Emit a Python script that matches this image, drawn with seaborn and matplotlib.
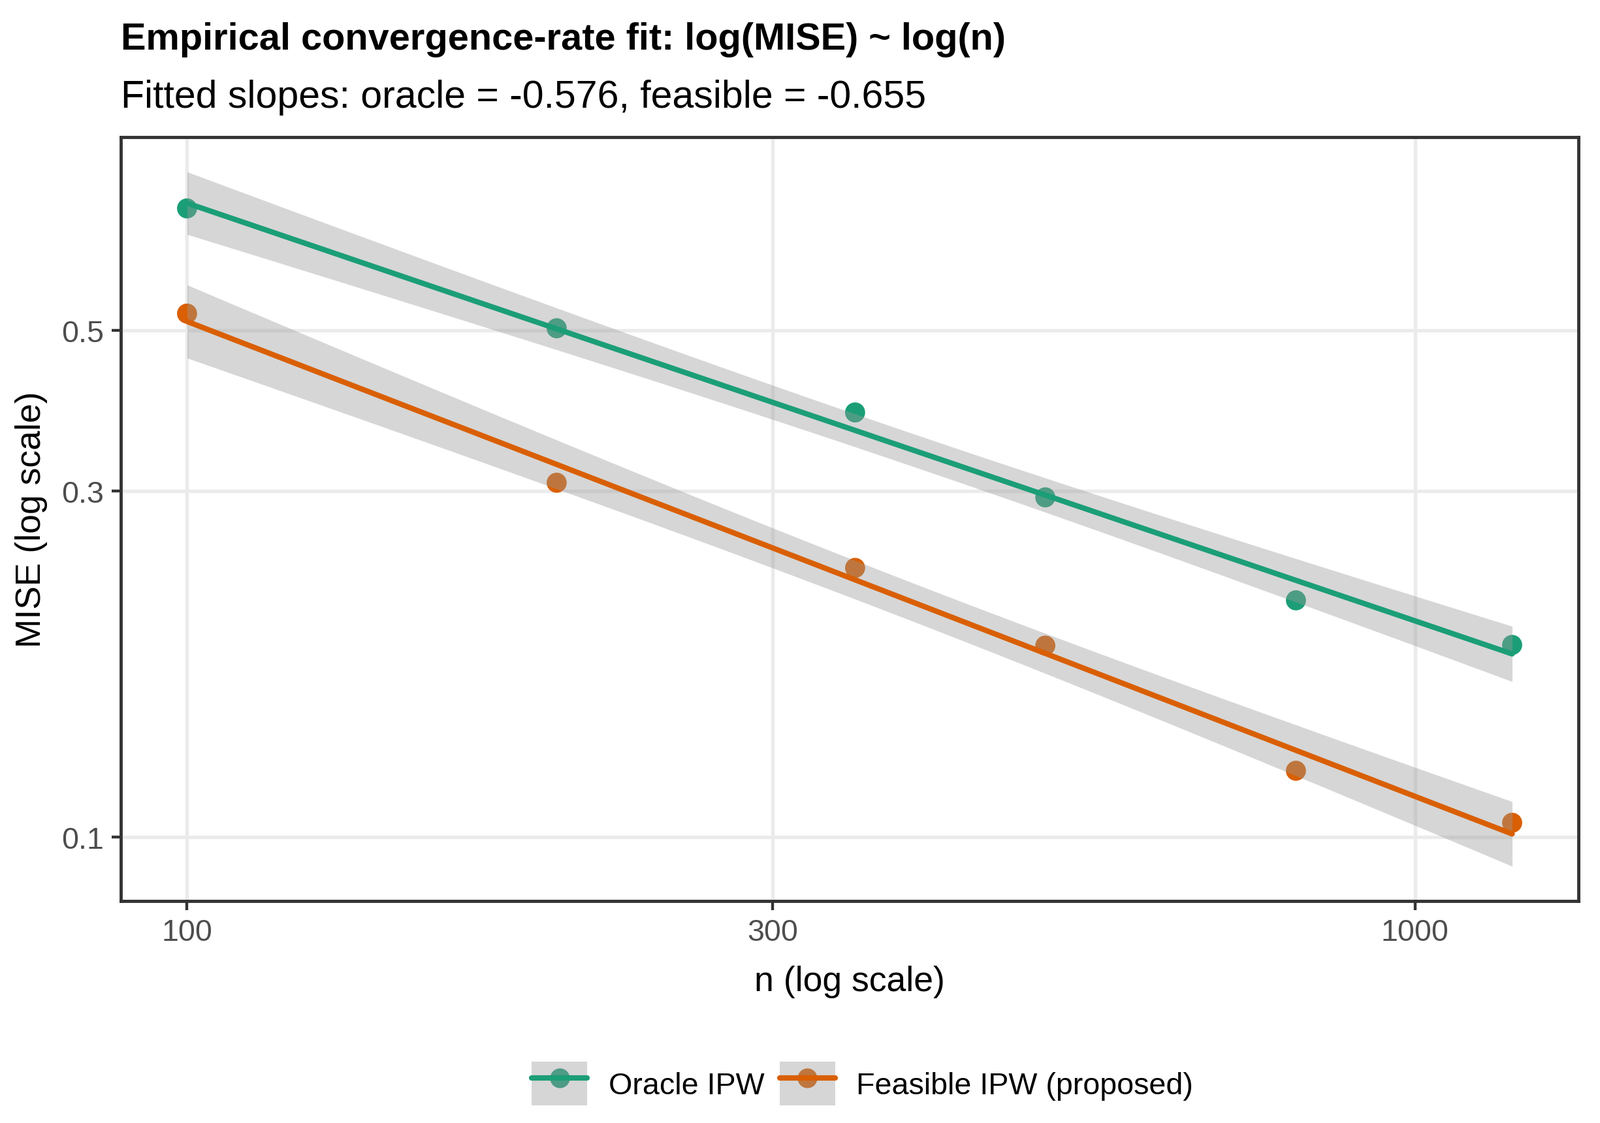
import numpy as np
import pandas as pd
import matplotlib
matplotlib.use("Agg")
import matplotlib.pyplot as plt
import seaborn as sns
from matplotlib.patches import Patch
from matplotlib.lines import Line2D
from matplotlib.colors import to_rgb

# ---------------- data ----------------
n_values = [100, 200, 350, 500, 800, 1200]
oracle_mise = [0.736, 0.503, 0.385, 0.294, 0.212, 0.184]
feasible_mise = [0.527, 0.308, 0.235, 0.1836, 0.1234, 0.1046]
methods = ["Oracle IPW", "Feasible IPW (proposed)"]
method_colors = ["#1B9E77", "#D95F02"]
x_ticks = [100, 300, 1000]
x_tick_labels = ["100", "300", "1000"]
y_ticks = [0.1, 0.3, 0.5]
y_tick_labels = ["0.1", "0.3", "0.5"]
title = "Empirical convergence-rate fit: log(MISE) ~ log(n)"
x_label = "n (log scale)"
y_label = "MISE (log scale)"
t_crit_df4 = 2.7764451  # 97.5% quantile of t with 4 df

df = pd.DataFrame({
    "n": n_values * 2,
    "MISE": oracle_mise + feasible_mise,
    "method": [methods[0]] * len(n_values) + [methods[1]] * len(n_values),
})

sns.set_theme(style="white")
plt.rcParams["font.family"] = ["Liberation Sans", "DejaVu Sans"]
plt.rcParams["text.color"] = "black"
plt.rcParams["axes.labelcolor"] = "black"

fig = plt.figure(figsize=(7, 4.917), dpi=350)
ax = fig.add_axes([0.0755, 0.1976, 0.911, 0.6798])
ax.set_xscale("log")
ax.set_yscale("log")

palette = dict(zip(methods, method_colors))
sns.scatterplot(data=df, x="n", y="MISE", hue="method", palette=palette,
                s=40, linewidth=0, ax=ax, legend=False, zorder=2)

slopes = {}
band_lo, band_hi = [], []
for m in methods:
    sub = df[df["method"] == m]
    lx = np.log10(sub["n"].to_numpy(float))
    ly = np.log10(sub["MISE"].to_numpy(float))
    b, a = np.polyfit(lx, ly, 1)
    slopes[m] = b
    resid = ly - (a + b * lx)
    s = np.sqrt(np.sum(resid ** 2) / (len(lx) - 2))
    sxx = np.sum((lx - lx.mean()) ** 2)
    gx = np.linspace(lx.min(), lx.max(), 80)
    gy = a + b * gx
    se = s * np.sqrt(1 / len(lx) + (gx - lx.mean()) ** 2 / sxx)
    lo = gy - t_crit_df4 * se
    hi = gy + t_crit_df4 * se
    band_lo.append(lo.min()); band_hi.append(hi.max())
    ax.fill_between(10 ** gx, 10 ** lo, 10 ** hi, color="#999999", alpha=0.4,
                    linewidth=0, zorder=3)
    sns.lineplot(x=10 ** gx, y=10 ** gy, color=palette[m], linewidth=1.7,
                 ax=ax, zorder=4, legend=False)

subtitle = (f"Fitted slopes: oracle = {slopes[methods[0]]:.3f}, "
            f"feasible = {slopes[methods[1]]:.3f}")

# limits: 5% expansion in log space
lxmin, lxmax = np.log10(min(n_values)), np.log10(max(n_values))
dx = (lxmax - lxmin) * 0.05
ax.set_xlim(10 ** (lxmin - dx), 10 ** (lxmax + dx))
all_y = np.log10(df["MISE"].to_numpy(float))
lymin = min(all_y.min(), min(band_lo)); lymax = max(all_y.max(), max(band_hi))
dy = (lymax - lymin) * 0.05
ax.set_ylim(10 ** (lymin - dy), 10 ** (lymax + dy))

ax.xaxis.set_major_locator(matplotlib.ticker.FixedLocator(x_ticks))
ax.xaxis.set_major_formatter(matplotlib.ticker.FixedFormatter(x_tick_labels))
ax.xaxis.set_minor_locator(matplotlib.ticker.NullLocator())
ax.yaxis.set_major_locator(matplotlib.ticker.FixedLocator(y_ticks))
ax.yaxis.set_major_formatter(matplotlib.ticker.FixedFormatter(y_tick_labels))
ax.yaxis.set_minor_locator(matplotlib.ticker.NullLocator())

ax.grid(True, which="major", color="#EBEBEB", linewidth=1.1, zorder=0)
ax.set_axisbelow(True)
for sp in ax.spines.values():
    sp.set_color("#333333"); sp.set_linewidth(1.0); sp.set_visible(True)
ax.tick_params(axis="both", which="major", length=2.9, width=0.9,
               color="#333333", labelcolor="#4D4D4D", labelsize=9.6, pad=2.5,
               bottom=True, left=True)

ax.set_xlabel(x_label, fontsize=11, color="black", va="center")
ax.set_ylabel(y_label, fontsize=11, color="black", va="center")
ax.xaxis.set_label_coords(0.5, -0.105)
ax.yaxis.set_label_coords(-0.0614, 0.5)

fig.text(0.0755, 1 - 76 / 1721, title, fontsize=11.9, fontweight="bold",
         ha="left", va="baseline", color="black")
fig.text(0.0755, 1 - 165 / 1721, subtitle, fontsize=12.15, ha="left",
         va="baseline", color="black")

# legend
grey = "#D6D6D6"
handles = []
for m in methods:
    c = np.array(to_rgb(palette[m])) * 0.6 + np.array(to_rgb("#999999")) * 0.4
    handles.append((Patch(facecolor=grey, edgecolor="none"),
                    Line2D([], [], linestyle="none", marker="o", markersize=6.2,
                           markerfacecolor=c, markeredgewidth=0),
                    Line2D([], [], color=palette[m], linewidth=1.7)))
leg = fig.legend(handles, methods, loc="center", bbox_to_anchor=(0.539, 0.035),
                 ncol=2, frameon=False, fontsize=9.6, handlelength=1.82,
                 handleheight=1.82, handletextpad=0.7, columnspacing=0.5,
                 borderpad=0, borderaxespad=0)
for t in leg.get_texts():
    t.set_color("black")

fig.savefig("out.png", dpi=350, facecolor="white")
